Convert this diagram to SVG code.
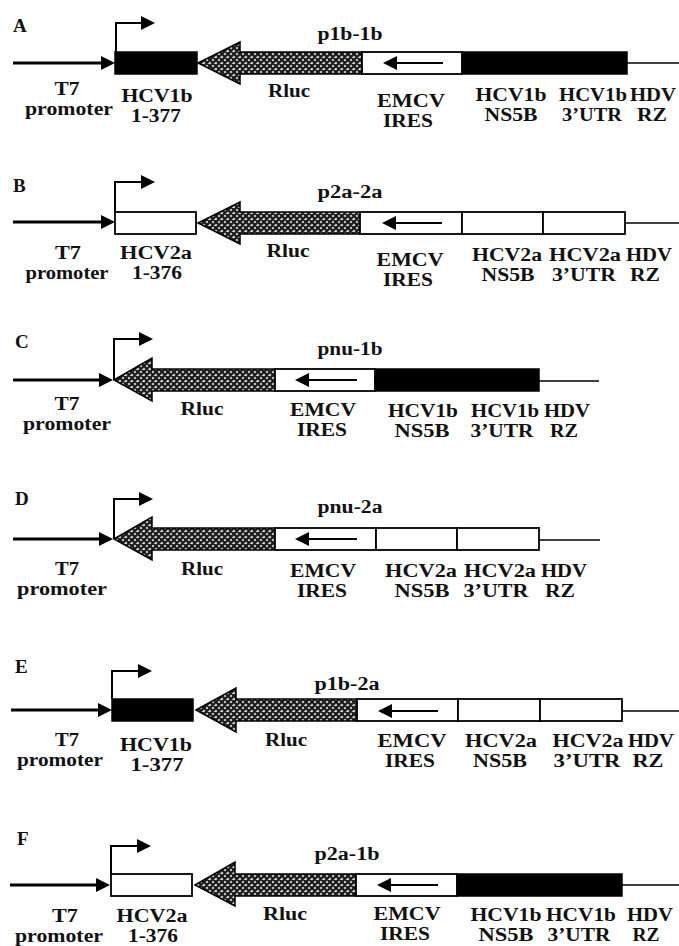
<svg xmlns="http://www.w3.org/2000/svg" width="679" height="946" viewBox="0 0 679 946">
<style>
.t{font-family:"Liberation Serif","Times New Roman",serif;font-weight:bold;font-size:18px;fill:#111;text-anchor:middle}
.pl{text-anchor:start;font-size:19px}
.blk{fill:#000;stroke:#000;stroke-width:1.5}
.wht{fill:#fff;stroke:#000;stroke-width:1.8}
.rl{fill:url(#hatch);stroke:#000;stroke-width:1.5}
.t7{stroke:#000;stroke-width:3;fill:none;marker-end:url(#ah)}
.pr{stroke:#000;stroke-width:2;fill:none;marker-end:url(#ah)}
.ir{stroke:#000;stroke-width:2;fill:none;marker-end:url(#ahi)}
.hdv{stroke:#000;stroke-width:1.5;fill:none}
</style>
<defs>
<pattern id="hatch" patternUnits="userSpaceOnUse" width="6" height="6">
<rect width="6" height="6" fill="#d4d4d4"/>
<path d="M-1,1 L1,-1 M0,6 L6,0 M5,7 L7,5 M-1,5 L1,7 M0,0 L6,6 M5,-1 L7,1" stroke="#1a1a1a" stroke-width="2.2"/>
</pattern>
<marker id="ah" viewBox="0 0 14 14" refX="4" refY="7" markerWidth="14" markerHeight="14" orient="auto" markerUnits="userSpaceOnUse">
<path d="M0,0 L14,7 L0,14 z" fill="#000"/>
</marker>
<marker id="ahi" viewBox="0 0 14 14" refX="4" refY="7" markerWidth="14" markerHeight="14" orient="auto" markerUnits="userSpaceOnUse">
<path d="M0,0 L14,7 L0,14 z" fill="#000"/>
</marker>
</defs>
<rect width="679" height="946" fill="#fff"/>

<!-- Panel A -->
<g id="panelA">
<text class="t pl" x="13" y="32">A</text>
<text class="t" x="350" y="40" textLength="65" lengthAdjust="spacingAndGlyphs">p1b-1b</text>
<g id="A-hcv5"><rect class="blk" x="115" y="52" width="82" height="22"/><text class="t" x="157" y="102" textLength="71" lengthAdjust="spacingAndGlyphs">HCV1b</text><text class="t" x="156" y="122" textLength="50" lengthAdjust="spacingAndGlyphs">1-377</text></g>
<g id="A-rluc"><polygon class="rl" points="198,63 240,42 240,52 362,52 362,74 240,74 240,84"/><text class="t" x="289" y="97" textLength="42" lengthAdjust="spacingAndGlyphs">Rluc</text></g>
<g id="A-ires"><rect class="wht" x="362" y="52" width="100" height="22"/><text class="t" x="411" y="107" textLength="68" lengthAdjust="spacingAndGlyphs">EMCV</text><text class="t" x="408" y="127" textLength="50" lengthAdjust="spacingAndGlyphs">IRES</text></g>
<g id="A-ns5b"><rect class="blk" x="462" y="52" width="165" height="22"/><text class="t" x="511" y="101" textLength="71" lengthAdjust="spacingAndGlyphs">HCV1b</text><text class="t" x="511" y="121" textLength="53" lengthAdjust="spacingAndGlyphs">NS5B</text></g>
<g id="A-utr"><text class="t" x="593" y="101" textLength="68" lengthAdjust="spacingAndGlyphs">HCV1b</text><text class="t" x="592" y="121" textLength="60" lengthAdjust="spacingAndGlyphs">3’UTR</text></g>
<g id="A-hdv"><text class="t" x="653" y="101" textLength="46" lengthAdjust="spacingAndGlyphs">HDV</text><text class="t" x="652" y="121" textLength="30" lengthAdjust="spacingAndGlyphs">RZ</text></g>
<g id="A-t7"><text class="t" x="67" y="95" textLength="25" lengthAdjust="spacingAndGlyphs">T7</text><text class="t" x="69" y="115" textLength="88" lengthAdjust="spacingAndGlyphs">promoter</text></g>
</g>

<!-- Panel B -->
<g id="panelB">
<text class="t pl" x="13" y="192">B</text>
<text class="t" x="350" y="198" textLength="65" lengthAdjust="spacingAndGlyphs">p2a-2a</text>
<g id="B-hcv5"><rect class="wht" x="115" y="212" width="81" height="22"/><text class="t" x="156" y="259" textLength="72" lengthAdjust="spacingAndGlyphs">HCV2a</text><text class="t" x="157" y="279" textLength="50" lengthAdjust="spacingAndGlyphs">1-376</text></g>
<g id="B-rluc"><polygon class="rl" points="198,223 240,202 240,212 360,212 360,234 240,234 240,244"/><text class="t" x="288" y="257" textLength="43" lengthAdjust="spacingAndGlyphs">Rluc</text></g>
<g id="B-ires"><rect class="wht" x="360" y="212" width="102" height="22"/><text class="t" x="410" y="266" textLength="67" lengthAdjust="spacingAndGlyphs">EMCV</text><text class="t" x="408" y="286" textLength="50" lengthAdjust="spacingAndGlyphs">IRES</text></g>
<g id="B-ns5b"><rect class="wht" x="462" y="212" width="81" height="22"/><text class="t" x="507" y="261" textLength="70" lengthAdjust="spacingAndGlyphs">HCV2a</text><text class="t" x="508" y="281" textLength="53" lengthAdjust="spacingAndGlyphs">NS5B</text></g>
<g id="B-utr"><rect class="wht" x="543" y="212" width="82" height="22"/><text class="t" x="585" y="261" textLength="72" lengthAdjust="spacingAndGlyphs">HCV2a</text><text class="t" x="584" y="281" textLength="64" lengthAdjust="spacingAndGlyphs">3’UTR</text></g>
<g id="B-hdv"><text class="t" x="649" y="261" textLength="46" lengthAdjust="spacingAndGlyphs">HDV</text><text class="t" x="645" y="281" textLength="30" lengthAdjust="spacingAndGlyphs">RZ</text></g>
<g id="B-t7"><text class="t" x="68" y="259" textLength="26" lengthAdjust="spacingAndGlyphs">T7</text><text class="t" x="67" y="279" textLength="83" lengthAdjust="spacingAndGlyphs">promoter</text></g>
</g>

<!-- Panel C -->
<g id="panelC">
<text class="t pl" x="15" y="348">C</text>
<text class="t" x="350" y="355" textLength="65" lengthAdjust="spacingAndGlyphs">pnu-1b</text>
<g id="C-rluc"><polygon class="rl" points="114,380 152,358 152,369 275,369 275,391 152,391 152,401"/><text class="t" x="202" y="415" textLength="43" lengthAdjust="spacingAndGlyphs">Rluc</text></g>
<g id="C-ires"><rect class="wht" x="275" y="369" width="100" height="22"/><text class="t" x="323" y="416" textLength="66" lengthAdjust="spacingAndGlyphs">EMCV</text><text class="t" x="322" y="436" textLength="50" lengthAdjust="spacingAndGlyphs">IRES</text></g>
<g id="C-ns5b"><rect class="blk" x="375" y="369" width="164" height="22"/><text class="t" x="423" y="417" textLength="70" lengthAdjust="spacingAndGlyphs">HCV1b</text><text class="t" x="422" y="437" textLength="55" lengthAdjust="spacingAndGlyphs">NS5B</text></g>
<g id="C-utr"><text class="t" x="505" y="417" textLength="68" lengthAdjust="spacingAndGlyphs">HCV1b</text><text class="t" x="502" y="437" textLength="63" lengthAdjust="spacingAndGlyphs">3’UTR</text></g>
<g id="C-hdv"><text class="t" x="567" y="417" textLength="46" lengthAdjust="spacingAndGlyphs">HDV</text><text class="t" x="564" y="437" textLength="28" lengthAdjust="spacingAndGlyphs">RZ</text></g>
<g id="C-t7"><text class="t" x="67" y="410" textLength="25" lengthAdjust="spacingAndGlyphs">T7</text><text class="t" x="67" y="430" textLength="88" lengthAdjust="spacingAndGlyphs">promoter</text></g>
</g>

<!-- Panel D -->
<g id="panelD">
<text class="t pl" x="15" y="505">D</text>
<text class="t" x="350" y="513" textLength="65" lengthAdjust="spacingAndGlyphs">pnu-2a</text>
<g id="D-rluc"><polygon class="rl" points="114,539 152,517 152,528 275,528 275,550 152,550 152,560"/><text class="t" x="202" y="575" textLength="42" lengthAdjust="spacingAndGlyphs">Rluc</text></g>
<g id="D-ires"><rect class="wht" x="275" y="528" width="101" height="22"/><text class="t" x="323" y="577" textLength="66" lengthAdjust="spacingAndGlyphs">EMCV</text><text class="t" x="322" y="597" textLength="50" lengthAdjust="spacingAndGlyphs">IRES</text></g>
<g id="D-ns5b"><rect class="wht" x="376" y="528" width="81" height="22"/><text class="t" x="421" y="577" textLength="72" lengthAdjust="spacingAndGlyphs">HCV2a</text><text class="t" x="422" y="597" textLength="55" lengthAdjust="spacingAndGlyphs">NS5B</text></g>
<g id="D-utr"><rect class="wht" x="457" y="528" width="82" height="22"/><text class="t" x="500" y="577" textLength="72" lengthAdjust="spacingAndGlyphs">HCV2a</text><text class="t" x="496" y="597" textLength="65" lengthAdjust="spacingAndGlyphs">3’UTR</text></g>
<g id="D-hdv"><text class="t" x="564" y="577" textLength="46" lengthAdjust="spacingAndGlyphs">HDV</text><text class="t" x="560" y="597" textLength="30" lengthAdjust="spacingAndGlyphs">RZ</text></g>
<g id="D-t7"><text class="t" x="67" y="575" textLength="24" lengthAdjust="spacingAndGlyphs">T7</text><text class="t" x="62" y="595" textLength="90" lengthAdjust="spacingAndGlyphs">promoter</text></g>
</g>

<!-- Panel E -->
<g id="panelE">
<text class="t pl" x="15" y="673">E</text>
<text class="t" x="347" y="690" textLength="65" lengthAdjust="spacingAndGlyphs">p1b-2a</text>
<g id="E-hcv5"><rect class="blk" x="112" y="699" width="81" height="22"/><text class="t" x="156" y="751" textLength="72" lengthAdjust="spacingAndGlyphs">HCV1b</text><text class="t" x="157" y="771" textLength="53" lengthAdjust="spacingAndGlyphs">1-377</text></g>
<g id="E-rluc"><polygon class="rl" points="196,710 236,688 236,699 357,699 357,721 236,721 236,732"/><text class="t" x="286" y="746" textLength="42" lengthAdjust="spacingAndGlyphs">Rluc</text></g>
<g id="E-ires"><rect class="wht" x="357" y="699" width="101" height="22"/><text class="t" x="412" y="747" textLength="69" lengthAdjust="spacingAndGlyphs">EMCV</text><text class="t" x="410" y="767" textLength="50" lengthAdjust="spacingAndGlyphs">IRES</text></g>
<g id="E-ns5b"><rect class="wht" x="458" y="699" width="82" height="22"/><text class="t" x="501" y="747" textLength="72" lengthAdjust="spacingAndGlyphs">HCV2a</text><text class="t" x="500" y="767" textLength="54" lengthAdjust="spacingAndGlyphs">NS5B</text></g>
<g id="E-utr"><rect class="wht" x="540" y="699" width="82" height="22"/><text class="t" x="588" y="747" textLength="71" lengthAdjust="spacingAndGlyphs">HCV2a</text><text class="t" x="587" y="767" textLength="67" lengthAdjust="spacingAndGlyphs">3’UTR</text></g>
<g id="E-hdv"><text class="t" x="651" y="747" textLength="46" lengthAdjust="spacingAndGlyphs">HDV</text><text class="t" x="648" y="767" textLength="31" lengthAdjust="spacingAndGlyphs">RZ</text></g>
<g id="E-t7"><text class="t" x="67" y="746" textLength="24" lengthAdjust="spacingAndGlyphs">T7</text><text class="t" x="60" y="766" textLength="86" lengthAdjust="spacingAndGlyphs">promoter</text></g>
</g>

<!-- Panel F -->
<g id="panelF">
<text class="t pl" x="17" y="845">F</text>
<text class="t" x="347" y="860" textLength="65" lengthAdjust="spacingAndGlyphs">p2a-1b</text>
<g id="F-hcv5"><rect class="wht" x="111" y="874" width="81" height="22"/><text class="t" x="152" y="922" textLength="71" lengthAdjust="spacingAndGlyphs">HCV2a</text><text class="t" x="153" y="942" textLength="50" lengthAdjust="spacingAndGlyphs">1-376</text></g>
<g id="F-rluc"><polygon class="rl" points="195,885 235,862 235,874 356,874 356,896 235,896 235,906"/><text class="t" x="285" y="920" textLength="44" lengthAdjust="spacingAndGlyphs">Rluc</text></g>
<g id="F-ires"><rect class="wht" x="356" y="874" width="101" height="22"/><text class="t" x="407" y="920" textLength="67" lengthAdjust="spacingAndGlyphs">EMCV</text><text class="t" x="405" y="940" textLength="50" lengthAdjust="spacingAndGlyphs">IRES</text></g>
<g id="F-ns5b"><rect class="blk" x="457" y="874" width="165" height="22"/><text class="t" x="506" y="921" textLength="71" lengthAdjust="spacingAndGlyphs">HCV1b</text><text class="t" x="506" y="941" textLength="55" lengthAdjust="spacingAndGlyphs">NS5B</text></g>
<g id="F-utr"><text class="t" x="581" y="921" textLength="70" lengthAdjust="spacingAndGlyphs">HCV1b</text><text class="t" x="579" y="941" textLength="63" lengthAdjust="spacingAndGlyphs">3’UTR</text></g>
<g id="F-hdv"><text class="t" x="650" y="921" textLength="46" lengthAdjust="spacingAndGlyphs">HDV</text><text class="t" x="646" y="941" textLength="27" lengthAdjust="spacingAndGlyphs">RZ</text></g>
<g id="F-t7"><text class="t" x="65" y="922" textLength="26" lengthAdjust="spacingAndGlyphs">T7</text><text class="t" x="59" y="942" textLength="88" lengthAdjust="spacingAndGlyphs">promoter</text></g>
</g>

<g id="connectors">
<!-- A -->
<line class="t7" x1="13" y1="63" x2="105" y2="63"/>
<path class="pr" d="M116,52 V23 H145"/>
<line class="ir" x1="443" y1="63" x2="393" y2="63"/>
<line class="hdv" x1="627" y1="63" x2="679" y2="63"/>
<!-- B -->
<line class="t7" x1="13" y1="222" x2="105" y2="222"/>
<path class="pr" d="M115,212 V182 H145"/>
<line class="ir" x1="442" y1="223" x2="392" y2="223"/>
<line class="hdv" x1="625" y1="223" x2="679" y2="223"/>
<!-- C -->
<line class="t7" x1="13" y1="380" x2="103" y2="380"/>
<path class="pr" d="M114,380 V339 H143"/>
<line class="ir" x1="357" y1="380" x2="305" y2="380"/>
<line class="hdv" x1="539" y1="381" x2="599" y2="381"/>
<!-- D -->
<line class="t7" x1="13" y1="539" x2="103" y2="539"/>
<path class="pr" d="M114,539 V499 H143"/>
<line class="ir" x1="357" y1="539" x2="305" y2="539"/>
<line class="hdv" x1="539" y1="540" x2="600" y2="540"/>
<!-- E -->
<line class="t7" x1="11" y1="710" x2="102" y2="710"/>
<path class="pr" d="M112,699 V671 H142"/>
<line class="ir" x1="438" y1="711" x2="388" y2="711"/>
<line class="hdv" x1="622" y1="711" x2="679" y2="711"/>
<!-- F -->
<line class="t7" x1="10" y1="885" x2="100" y2="885"/>
<path class="pr" d="M111,874 V846 H141"/>
<line class="ir" x1="438" y1="885" x2="387" y2="885"/>
<line class="hdv" x1="622" y1="885" x2="679" y2="885"/>
</g>
</svg>
